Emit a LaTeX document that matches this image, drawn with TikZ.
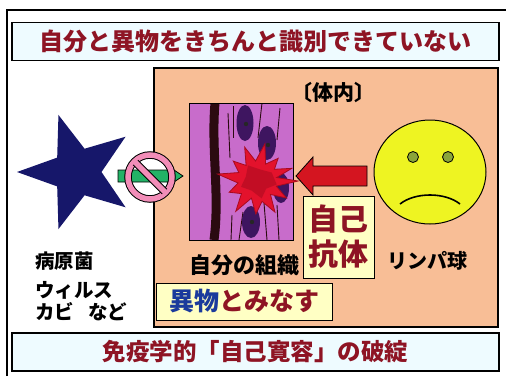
\documentclass[tikz,border=0pt]{standalone}
\usepackage{fontspec}
\usetikzlibrary{shapes.geometric, calc}
\newfontfamily\jp{Noto Sans CJK JP Black}
\definecolor{DarkRed}{HTML}{8E1424}
\definecolor{Ice}{HTML}{EEFBFF}
\definecolor{Peach}{HTML}{F8BE96}
\definecolor{Navy}{HTML}{16176A}
\definecolor{Orchid}{HTML}{C86CCB}
\definecolor{Cell}{HTML}{3E1560}
\definecolor{Band}{HTML}{2B0A10}
\definecolor{Burst}{HTML}{E3122C}
\definecolor{BurstDark}{HTML}{A80A1E}
\definecolor{ArrowRed}{HTML}{D41520}
\definecolor{Cream}{HTML}{FFFFC4}
\definecolor{Lemon}{HTML}{EEF422}
\definecolor{Olive}{HTML}{8AA53A}
\definecolor{Pink}{HTML}{F28DB8}
\definecolor{Green}{HTML}{22B266}
\definecolor{Blue}{HTML}{1A3A9C}
\def\pt#1{\fontsize{#1}{#1}\selectfont}

\begin{document}
\begin{tikzpicture}[
    x=1pt, y=-1pt,
    font=\jp,
    banner/.style={draw, line width=1.2pt, fill=Ice, minimum width=487pt, minimum height=38pt,
      inner sep=0pt, text=DarkRed, font=\jp\pt{24}},
    noteBox/.style={draw, line width=1pt, fill=Cream, inner sep=0pt},
    blackText/.style={inner sep=0pt, font=\jp\pt{19.5}},
    fibre/.style={line width=0.9pt, Band},
  ]
  \useasboundingbox (0,0) rectangle (506,376);
  % frame
  \draw[line width=1.5pt] (7,376) -- (7,10) -- (506,10);
  \node[banner] (title) at (255.5,41.5) {自分と異物をきちんと識別できていない};
  \node[banner, font=\jp\pt{23.5}] (result) at (255.5,352) {免疫学的「自己寛容」の破綻};
  % body
  \draw[line width=1.2pt, fill=Peach] (154,68) rectangle (498,327);
  \node[inner sep=0pt, font=\jp\pt{21}] (inside) at (333,93) {〔体内〕};

  % germs
  \node[star, star points=5, star point ratio=2.45, shape border rotate=90,
    minimum size=120pt, inner sep=0pt, fill=Navy] (germ) at (77,172) {};
  \node[blackText, anchor=west] (germA) at (35,261) {病原菌};
  \node[blackText, anchor=west] (germB) at (35,290) {ウィルス};
  \node[blackText, anchor=west] (germC) at (35,312) {カビ\hspace{14pt}など};

  % blocked entry
  \fill[white] (150,177) circle (22);
  \draw[line width=0.8pt, fill=Green] (118,170) -- (168,170) -- (168,166) -- (183,176)
    -- (168,186) -- (168,182) -- (118,182) -- cycle;
  \draw[line width=7.5pt] (150,177) circle (22);
  \draw[line width=5.5pt, Pink] (150,177) circle (22);
  \draw[line width=7.5pt] (135.5,162.5) -- (164.5,191.5);
  \draw[line width=5.5pt, Pink] (134.8,161.8) -- (165.2,192.2);

  % tissue
  \begin{scope}
    \clip (189,103) rectangle (293,240);
    \fill[Orchid] (189,103) rectangle (293,240);
    \draw[fibre] (228,113) -- (230,158);
    \draw[fibre] (233,106) -- (233,138);
    \draw[fibre] (262,103) -- (258,138);
    \draw[fibre] (280,108) -- (277,140);
    \draw[fibre] (232,215) -- (231,240);
    \draw[fibre] (243,212) -- (239,240);
    \draw[fibre] (264,203) -- (267,240);
    \draw[fibre] (277,205) -- (279,240);
    \fill[Cell] (245,123) ellipse [x radius=8.5, y radius=18];
    \fill[Cell] (267,143) ellipse [x radius=9, y radius=17];
    \fill[Cell] (251,222) ellipse [x radius=9, y radius=16];
    \fill[Cell] (281,188) ellipse [x radius=8, y radius=15];
    \fill[black!85] (246,124) circle (2.2);
    \fill[black!85] (268,145) circle (2.2);
    \fill[black!85] (252,222) circle (2.2);
    \draw[Band, line width=9pt] (215,103) .. controls (211,150) and (220,195) .. (214,240);
  \end{scope}
  \draw[line width=1pt] (189,103) rectangle (293,240);
  % burst
  \begin{scope}[shift={(257,181)}]
    \draw[fill=Burst, draw=BurstDark, line width=0.8pt] plot coordinates {
      (0:41) (15:20) (30:34) (45:19) (60:36) (76:21) (92:33) (108:18)
      (125:37) (141:20) (158:30) (174:19) (190:40) (205:20) (220:31)
      (235:19) (250:36) (266:20) (282:38) (297:19) (313:31) (326:21)
      (340:37) (350:20)} -- cycle;
    \fill[BurstDark, opacity=0.55] plot coordinates {
      (10:20) (40:12) (75:18) (120:11) (160:17) (200:12) (240:18)
      (290:12) (330:17)} -- cycle;
  \end{scope}

  % antibody attack
  \draw[line width=0.8pt, fill=ArrowRed] (296,176) -- (313,157) -- (313,166) -- (367,166)
    -- (367,186) -- (313,186) -- (313,195) -- cycle;
  \node[noteBox, minimum width=71pt, minimum height=82pt, align=center, text=DarkRed,
    font=\jp\fontsize{30}{35}\selectfont] (autoAb) at (338.5,237) {自己\\抗体};

  % lymphocyte
  \draw[line width=1pt, fill=Lemon] (430,172) ellipse [x radius=56, y radius=52];
  \draw[line width=0.8pt, fill=Olive] (413,157) circle (5.5);
  \draw[line width=0.8pt, fill=Olive] (448,157) circle (5.5);
  \draw[line width=1.6pt] (400,204) .. controls (415,192) and (445,192) .. (460,204);
  \node[blackText, font=\jp\pt{20}] (lymph) at (427,261) {リンパ球};

  % labels
  \node[blackText, font=\jp\pt{22}] (tissue) at (244,265) {自分の組織};
  \node[noteBox, minimum width=176pt, minimum height=37pt, text=DarkRed,
    font=\jp\pt{25}] (foreign) at (244,301.5) {\textcolor{Blue}{異物}とみなす};
\end{tikzpicture}
\end{document}
